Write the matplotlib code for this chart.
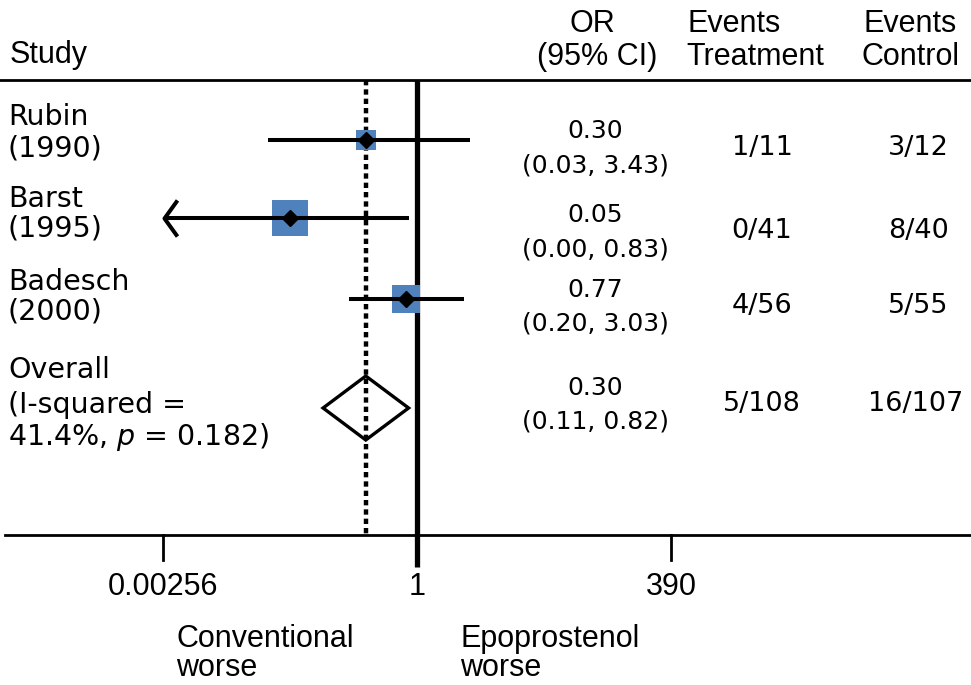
import matplotlib
matplotlib.use("Agg")
import matplotlib.pyplot as plt
from matplotlib.path import Path
import numpy as np

# ---------------- data ----------------
study_names = ["Rubin", "Barst", "Badesch"]
study_years = ["(1990)", "(1995)", "(2000)"]
or_est = [0.30, 0.05, 0.77]
ci_low = [0.03, 0.00, 0.20]
ci_high = [3.43, 0.83, 3.03]
events_treatment = ["1/11", "0/41", "4/56"]
events_control = ["3/12", "8/40", "5/55"]
study_square_px = [21, 37, 28]      # relative study weights shown as square size

overall_label = ["Overall", "(I-squared =", "41.4%, $\\it{p}$ = 0.182)"]
overall_est = 0.30
overall_low = 0.11
overall_high = 0.82
overall_events_treatment = "5/108"
overall_events_control = "16/107"

tick_values = [0.00256, 1, 390]
tick_labels = ["0.00256", "1", "390"]
headers_or = ["OR", "(95% CI)"]
headers_trt = ["Events", "Treatment"]
headers_ctl = ["Events", "Control"]
direction_left = ["Conventional", "worse"]
direction_right = ["Epoprostenol", "worse"]

# ---------------- layout ----------------
W, H = 971, 685
fig = plt.figure(figsize=(W / 100, H / 100), dpi=100)
ax = fig.add_axes([0, 0, 1, 1])
ax.set_xscale("log")
# x: 0.00256 at px 163, 390 at px 671
dec_per_px = (np.log10(tick_values[2]) - np.log10(tick_values[0])) / (671 - 163)
lo_exp = np.log10(tick_values[0]) - 163 * dec_per_px
hi_exp = np.log10(tick_values[0]) + (W - 163) * dec_per_px
ax.set_xlim(10 ** lo_exp, 10 ** hi_exp)
ax.set_ylim(H, 0)
ax.axis("off")

row_y = [140, 218, 299]
overall_y = 408
top_line_y = 80
bottom_line_y = 535

BLUE = "#4F81BD"
ARIAL = "Liberation Sans"
VERD = "DejaVu Sans"
HSIZE = 22
LSIZE = 20.5
NSIZE = 18
ESIZE = 19.5


def ftext(x, y, s, size, family, ha="left", **kw):
    fig.text(x / W, 1 - y / H, s, fontsize=size, family=family, ha=ha, va="center", **kw)


# horizontal rules
ax.axhline(top_line_y, color="black", lw=2.0, zorder=1)
ax.plot([10 ** (lo_exp + 5 * dec_per_px), 10 ** hi_exp], [bottom_line_y] * 2, color="black", lw=2.0, zorder=1)

# null line at OR = 1
ax.plot([1, 1], [top_line_y, 567], color="black", lw=3.8, zorder=2, solid_capstyle="butt")
# dotted line at overall estimate
ax.plot([overall_est, overall_est], [top_line_y, bottom_line_y], color="black", lw=3.2,
        linestyle=(0, (1.2, 0.9)), zorder=2, dash_capstyle="butt")

# ticks
for tv in (tick_values[0], tick_values[2]):
    ax.plot([tv, tv], [bottom_line_y, 560], color="black", lw=2.0, zorder=1)

chevron = Path([(0.72, 1.0), (0.0, 0.0), (0.72, -1.0)], [Path.MOVETO, Path.LINETO, Path.LINETO])

for i in range(len(study_names)):
    y = row_y[i]
    lo = ci_low[i]
    clipped = lo < tick_values[0]
    lo_draw = tick_values[0] * 1.02 if clipped else lo
    ax.plot([or_est[i]], [y], marker="s", markersize=study_square_px[i] / 1.389,
            color=BLUE, markeredgewidth=0, zorder=3)
    ax.plot([lo_draw, ci_high[i]], [y, y], color="black", lw=2.9, zorder=4, solid_capstyle="butt")
    if clipped:
        ax.plot([tick_values[0] * 1.02], [y], marker=chevron, markersize=26, markerfacecolor="none",
                markeredgecolor="black", markeredgewidth=2.9, zorder=4)
    ax.plot([or_est[i]], [y], marker="D", markersize=8, color="black", zorder=5)

# overall diamond
h = 32
ax.fill([overall_low, overall_est, overall_high, overall_est],
        [overall_y, overall_y - h, overall_y, overall_y + h],
        facecolor="none", edgecolor="black", lw=2.4, zorder=3, joinstyle="miter")

# ---------------- text ----------------
ftext(10, 55, "Study", HSIZE, ARIAL)
ftext(592, 24, headers_or[0], HSIZE, ARIAL, ha="center")
ftext(597, 57, headers_or[1], HSIZE, ARIAL, ha="center")
ftext(687, 24, headers_trt[0], HSIZE, ARIAL)
ftext(686, 57, headers_trt[1], HSIZE, ARIAL)
ftext(863, 24, headers_ctl[0], HSIZE, ARIAL)
ftext(861, 57, headers_ctl[1], HSIZE, ARIAL)

name_y = [(117, 148), (199, 229), (282, 311)]
or_y = [(131, 165), (215, 250), (290, 323)]
ev_y = [148, 231, 306]
for i in range(len(study_names)):
    ftext(8, name_y[i][0], study_names[i], LSIZE, VERD)
    ftext(8, name_y[i][1], study_years[i], LSIZE, VERD)
    ftext(595, or_y[i][0], f"{or_est[i]:.2f}", NSIZE, VERD, ha="center")
    ftext(595, or_y[i][1], f"({ci_low[i]:.2f}, {ci_high[i]:.2f})", NSIZE, VERD, ha="center")
    ftext(762, ev_y[i], events_treatment[i], ESIZE, VERD, ha="center")
    ftext(918, ev_y[i], events_control[i], ESIZE, VERD, ha="center")

for j, yy in enumerate([370, 405, 437]):
    ftext(8, yy, overall_label[j], LSIZE, VERD)
ftext(595, 388, f"{overall_est:.2f}", NSIZE, VERD, ha="center")
ftext(595, 421, f"({overall_low:.2f}, {overall_high:.2f})", NSIZE, VERD, ha="center")
ftext(762, 404, overall_events_treatment, ESIZE, VERD, ha="center")
ftext(916, 404, overall_events_control, ESIZE, VERD, ha="center")

tick_px = [163, 417, 671]
for tp, tl in zip(tick_px, tick_labels):
    ftext(tp, 587, tl, HSIZE, ARIAL, ha="center")

ftext(176, 639, direction_left[0], HSIZE, ARIAL)
ftext(176, 668, direction_left[1], HSIZE, ARIAL)
ftext(460, 639, direction_right[0], HSIZE, ARIAL)
ftext(460, 668, direction_right[1], HSIZE, ARIAL)

fig.savefig("out.png", dpi=100)
